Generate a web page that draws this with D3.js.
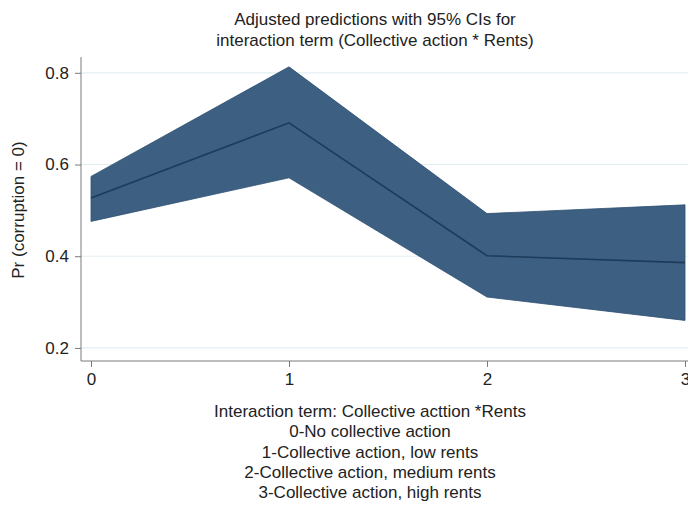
<!DOCTYPE html>
<html>
<head>
<meta charset="utf-8">
<script src="https://cdn.jsdelivr.net/npm/d3@7/dist/d3.min.js"></script>
<style>
  html, body { margin: 0; padding: 0; background: #fff; overflow: hidden; }
  svg { display: block; }
  text { font-family: "Liberation Sans", Arial, Helvetica, sans-serif; fill: #222; }
</style>
</head>
<body>
<svg id="chart" width="688" height="509"></svg>
<script>
// Interaction categories (0..3) with adjusted predictions and 95% CIs
const categories = [0, 1, 2, 3];
const predicted  = [0.527, 0.691, 0.401, 0.386];
const ciLower    = [0.476, 0.571, 0.311, 0.260];
const ciUpper    = [0.574, 0.813, 0.493, 0.512];
const yTicks     = [0.2, 0.4, 0.6, 0.8];
const titleLines = ["Adjusted predictions with 95% CIs for",
                    "interaction term (Collective action * Rents)"];
const noteLines  = ["Interaction term: Collective acttion *Rents",
                    "0-No collective action",
                    "1-Collective action, low rents",
                    "2-Collective action, medium rents",
                    "3-Collective action, high rents"];

const svg = d3.select("#chart");
const fs = "17px";

const x = d3.scaleLinear().domain([0, 3]).range([91, 685]);
const y = d3.scaleLinear().domain([0.1715, 0.8345]).range([361, 57]);
const xLeft = 81;   // where the plot region begins
const xRight = 700; // plot continues past the window edge

// gridlines
svg.append("g").selectAll("line").data(yTicks).join("line")
  .attr("x1", xLeft).attr("x2", xRight)
  .attr("y1", d => y(d)).attr("y2", d => y(d))
  .attr("stroke", "#e3eef3").attr("stroke-width", 1.2);

// confidence band
const rows = categories.map((c, i) => ({ c, lo: ciLower[i], hi: ciUpper[i], m: predicted[i] }));
svg.append("path").datum(rows)
  .attr("d", d3.area().x(d => x(d.c)).y0(d => y(d.lo)).y1(d => y(d.hi)))
  .attr("fill", "#3d5f82").attr("stroke", "#2f5173").attr("stroke-width", 0.8);

// predicted line
svg.append("path").datum(rows)
  .attr("d", d3.line().x(d => x(d.c)).y(d => y(d.m)))
  .attr("fill", "none").attr("stroke", "#1d3b5a").attr("stroke-width", 1.6);

// y axis
const yAxis = svg.append("g").attr("transform", `translate(${xLeft},0)`)
  .call(d3.axisLeft(y).tickValues(yTicks).tickFormat(d3.format(".1f")).tickSize(6).tickPadding(6));
yAxis.select(".domain").attr("stroke", "#7a7a7a").attr("d", `M0,${y.range()[1]}V${y.range()[0]}`);
yAxis.selectAll(".tick line").attr("stroke", "#7a7a7a");
yAxis.selectAll(".tick text").style("font-size", fs).attr("fill", "#222");

// x axis
const xAxis = svg.append("g").attr("transform", `translate(0,${y.range()[0]})`)
  .call(d3.axisBottom(x).tickValues(categories).tickFormat(d3.format("d")).tickSize(6).tickPadding(6));
xAxis.select(".domain").attr("stroke", "#7a7a7a").attr("d", `M${xLeft},0H${xRight}`);
xAxis.selectAll(".tick line").attr("stroke", "#7a7a7a");
xAxis.selectAll(".tick text").style("font-size", fs).attr("fill", "#222");

// y-axis title
svg.append("text")
  .attr("transform", "translate(24,210) rotate(-90)")
  .attr("text-anchor", "middle").style("font-size", fs)
  .text("Pr (corruption = 0)");

// title
svg.append("g").selectAll("text").data(titleLines).join("text")
  .attr("x", 375).attr("y", (d, i) => 25 + i * 21)
  .attr("text-anchor", "middle").style("font-size", fs)
  .text(d => d);

// category note below the axis
svg.append("g").selectAll("text").data(noteLines).join("text")
  .attr("x", 370).attr("y", (d, i) => 417 + i * 20.3)
  .attr("text-anchor", "middle").style("font-size", fs)
  .text(d => d);
</script>
</body>
</html>
